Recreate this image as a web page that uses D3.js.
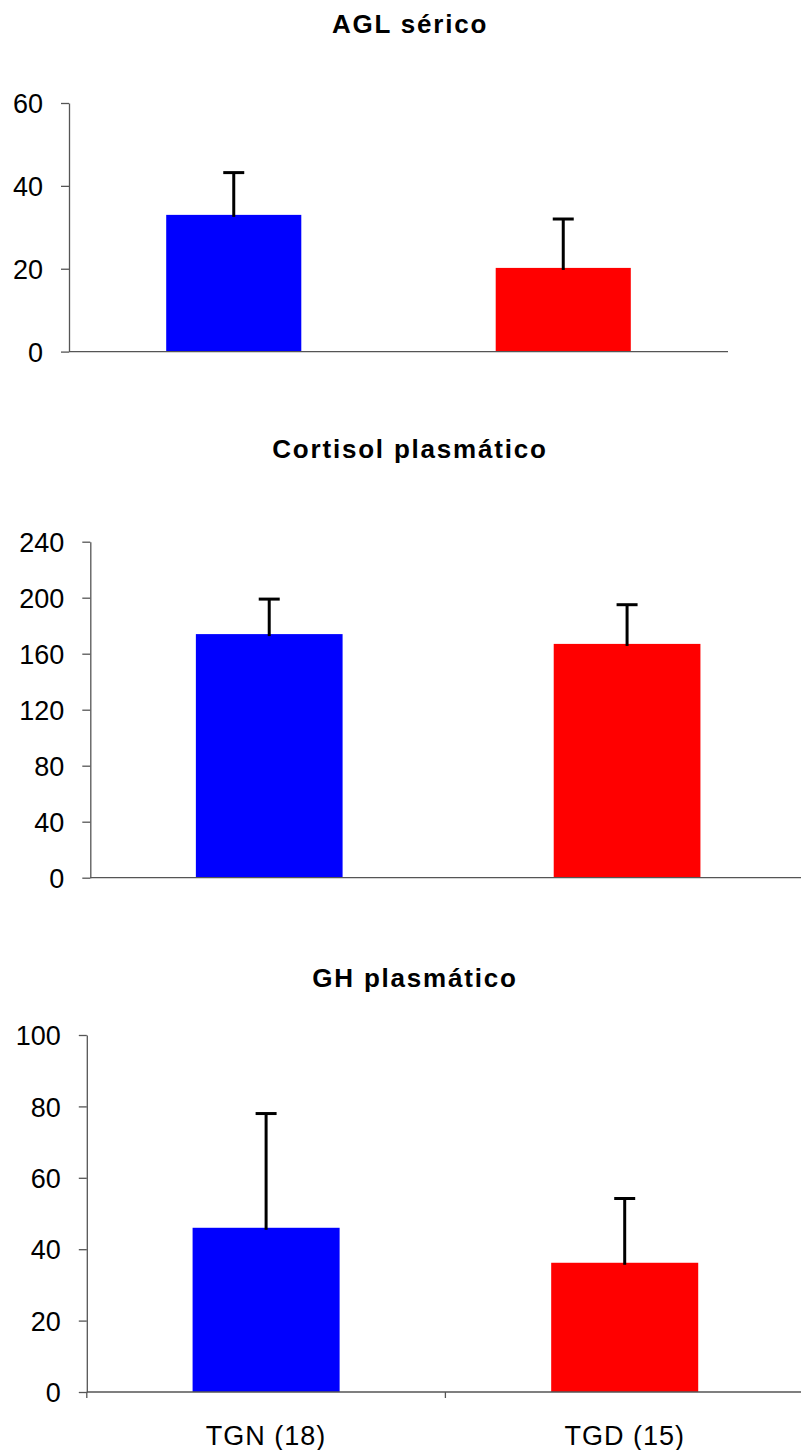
<!DOCTYPE html>
<html lang="es">
   <head>
      <meta charset="utf-8">
      <title>AGL, cortisol y GH</title>
      <script src="https://cdn.jsdelivr.net/npm/d3@7"></script>
      <style>
         body { margin: 0; background: white; }
         svg { font-family: "Liberation Sans", Arial, sans-serif; }
         .title { font-weight: bold; font-size: 26px; letter-spacing: 1.8px; text-anchor: middle; fill: black; }
         .yaxis text { font-size: 27px; letter-spacing: 0px; fill: black; }
         .yaxis line, .yaxis path, .xline, .xtick { stroke: #555; stroke-width: 1.3px; }
         .xlab text { font-size: 27px; letter-spacing: 1px; fill: black; }
         .err { stroke: black; stroke-width: 3px; fill: none; }
      </style>
   </head>
   <body>
      <svg width="801" height="1450"></svg>

      <script>
         // data
         var groups = ["TGN (18)", "TGD (15)"];
         var colors = ["#0000ff", "#ff0000"];

         var titles = ["AGL sérico", "Cortisol plasmático", "GH plasmático"];

         var aglMean = [33, 20.2];
         var aglSd = [10.2, 11.8];
         var aglTicks = [0, 20, 40, 60];

         var cortMean = [174, 167];
         var cortSd = [25, 28];
         var cortTicks = [0, 40, 80, 120, 160, 200, 240];

         var ghMean = [46, 36.2];
         var ghSd = [32, 18];
         var ghTicks = [0, 20, 40, 60, 80, 100];

         // panel placement
         var panels = [
            { title: titles[0], mean: aglMean, sd: aglSd, ticks: aglTicks,
              left: 69, right: 728, top: 103, bottom: 351.6, titleX: 410, titleY: 33, labels: false },
            { title: titles[1], mean: cortMean, sd: cortSd, ticks: cortTicks,
              left: 90.3, right: 806, top: 541.7, bottom: 877.7, titleX: 410, titleY: 458, labels: false },
            { title: titles[2], mean: ghMean, sd: ghSd, ticks: ghTicks,
              left: 86.8, right: 804, top: 1035, bottom: 1392, titleX: 415, titleY: 987, labels: true }
         ];

         var svg = d3.select("svg");

         panels.forEach(function(p) {
            var g = svg.append("g");

            var x = d3.scaleBand()
               .domain(groups)
               .range([p.left, p.right])
               .paddingInner(0.59)
               .paddingOuter(0.295);

            var y = d3.scaleLinear()
               .domain([0, d3.max(p.ticks)])
               .range([p.bottom, p.top]);

            g.append("text")
               .attr("class", "title")
               .attr("x", p.titleX)
               .attr("y", p.titleY)
               .text(p.title);

            // bars
            g.selectAll(".bar")
               .data(groups)
               .enter()
               .append("rect")
               .attr("class", "bar")
               .attr("x", function(d) { return x(d); })
               .attr("width", x.bandwidth())
               .attr("y", function(d, i) { return y(p.mean[i]); })
               .attr("height", function(d, i) { return y(0) - y(p.mean[i]); })
               .attr("fill", function(d, i) { return colors[i]; });

            // error bars (upper only)
            var eb = g.selectAll(".eb")
               .data(groups)
               .enter()
               .append("g")
               .attr("class", "eb");

            eb.append("line")
               .attr("class", "err")
               .attr("x1", function(d) { return x(d) + x.bandwidth() / 2; })
               .attr("x2", function(d) { return x(d) + x.bandwidth() / 2; })
               .attr("y1", function(d, i) { return y(p.mean[i]) + 2; })
               .attr("y2", function(d, i) { return y(p.mean[i] + p.sd[i]); });

            eb.append("line")
               .attr("class", "err")
               .attr("x1", function(d) { return x(d) + x.bandwidth() / 2 - 10.5; })
               .attr("x2", function(d) { return x(d) + x.bandwidth() / 2 + 10.5; })
               .attr("y1", function(d, i) { return y(p.mean[i] + p.sd[i]); })
               .attr("y2", function(d, i) { return y(p.mean[i] + p.sd[i]); });

            // y axis
            var yAxis = g.append("g")
               .attr("class", "yaxis")
               .attr("transform", "translate(" + p.left + ",0)")
               .call(d3.axisLeft(y).tickValues(p.ticks).tickSize(8).tickSizeOuter(0).tickPadding(18)
                  .tickFormat(d3.format("d")));
            yAxis.attr("font-size", null).attr("font-family", null);
            yAxis.selectAll("text").attr("dy", "0.36em");

            // x axis line
            g.append("line")
               .attr("class", "xline")
               .attr("x1", p.left)
               .attr("x2", p.right)
               .attr("y1", y(0))
               .attr("y2", y(0));

            if (p.labels) {
               var edges = [p.left, p.left + x.step(), p.left + 2 * x.step()];
               g.selectAll(".xtick")
                  .data(edges)
                  .enter()
                  .append("line")
                  .attr("class", "xtick")
                  .attr("x1", function(d) { return d; })
                  .attr("x2", function(d) { return d; })
                  .attr("y1", y(0))
                  .attr("y2", y(0) + 6);

               g.append("g")
                  .attr("class", "xlab")
                  .selectAll("text")
                  .data(groups)
                  .enter()
                  .append("text")
                  .attr("x", function(d) { return x(d) + x.bandwidth() / 2; })
                  .attr("y", 1445)
                  .attr("text-anchor", "middle")
                  .text(function(d) { return d; });
            }
         });
      </script>
   </body>
</html>
